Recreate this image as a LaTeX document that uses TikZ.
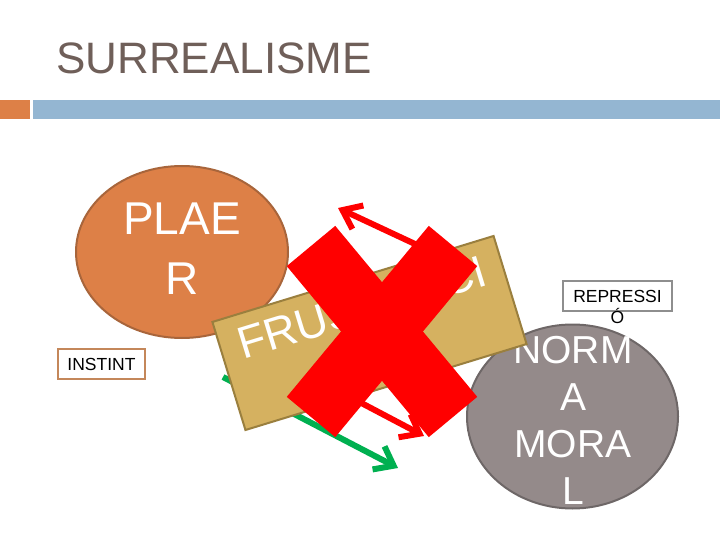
\documentclass[tikz,border=0pt]{standalone}
\usepackage{fontspec}
\setmainfont{Liberation Sans}
\usetikzlibrary{arrows.meta,shapes.geometric}
\definecolor{titlegray}{HTML}{6F5F59}
\definecolor{orangeF}{HTML}{DD8047}
\definecolor{orangeD}{HTML}{A8653B}
\definecolor{instborder}{HTML}{C4875A}
\definecolor{bluebar}{HTML}{94B6D2}
\definecolor{tanF}{HTML}{D5B160}
\definecolor{tanD}{HTML}{9A7F3E}
\definecolor{grayF}{HTML}{948A8A}
\definecolor{grayD}{HTML}{6E6767}
\definecolor{repborder}{HTML}{8E8E8E}
\definecolor{greenA}{HTML}{00B050}
\tikzset{
  barrow/.style={line width=6pt,-{Straight Barb[length=17pt,width=26pt]}},
  labelbox/.style={rectangle,fill=white,line width=2.2pt,inner sep=0pt},
}
\begin{document}
\begin{tikzpicture}[x=1pt,y=-1pt]
\useasboundingbox (0,0) rectangle (720,540);
% title
\node[anchor=base west,inner sep=0pt,text=titlegray,font=\fontsize{44}{50}\selectfont] (title) at (56,74) {SURREALISME};
% bars
\fill[orangeF] (0,100) rectangle (30,119);
\fill[bluebar] (33,100) rectangle (720,119);
% PLAER
\node[ellipse,fill=orangeF,draw=orangeD,line width=2pt,minimum width=212pt,minimum height=172pt,inner sep=0pt] (plaer) at (182,252) {};
\node[text=white,align=center,font=\fontsize{46}{60}\selectfont,inner sep=0pt] (plaertext) at (182,249) {PLAE\\R};
% INSTINT
\node[labelbox,draw=instborder,minimum width=87pt,minimum height=30pt,font=\fontsize{17.5}{21}\selectfont] (instint) at (101.5,364) {INSTINT};
% green arrow
\coordinate (g1) at (223,377);
\coordinate (g2) at (398,468);
\draw[barrow,greenA] (g1) -- (g2);
% red arrows
\coordinate (r1s) at (445,258);
\coordinate (r1e) at (338,208);
\coordinate (r2s) at (350,397);
\coordinate (r2e) at (424,436);
\draw[barrow,red] (r1s) -- (r1e);
\draw[barrow,red] (r2s) -- (r2e);
% NORMA MORAL
\node[ellipse,fill=grayF,draw=grayD,line width=2pt,minimum width=211pt,minimum height=184pt,inner sep=0pt] (norma) at (572.5,416.5) {};
\node[text=white,align=center,font=\fontsize{39}{47}\selectfont,inner sep=0pt] (normatext) at (573,420) {NORM\\A\\MORA\\L};
% FRUSTRACIO
\node[rectangle,fill=tanF,draw=tanD,line width=2pt,rotate=17,minimum width=294pt,minimum height=113pt,inner sep=0pt,text=white,align=center,font=\fontsize{45}{54}\selectfont] (frust) at (369.5,333) {FRUSTRACI\\Ó};
% red X
\coordinate (xa) at (311,246);
\coordinate (xb) at (453,417);
\coordinate (xc) at (453,246);
\coordinate (xd) at (311,417);
\draw[red,line width=63pt] (xa) -- (xb);
\draw[red,line width=63pt] (xc) -- (xd);
% REPRESSIO
\node[labelbox,draw=repborder,minimum width=109pt,minimum height=30pt] (repbox) at (617.5,296) {};
\node[align=center,inner sep=0pt,font=\fontsize{17.5}{21}\selectfont] (reptext) at (617.5,306.5) {REPRESSI\\Ó};
\end{tikzpicture}
\end{document}
